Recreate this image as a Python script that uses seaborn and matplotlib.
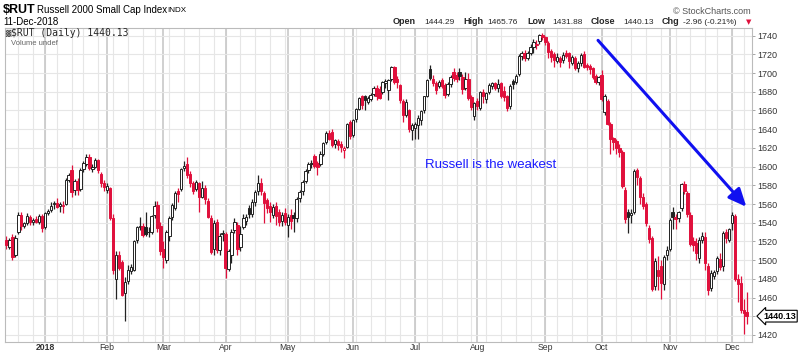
import matplotlib
matplotlib.use("Agg")
import matplotlib.pyplot as plt
import seaborn as sns
import pandas as pd
import numpy as np

# trading calendar, 12-Dec-2017 .. 11-Dec-2018
holidays = ["2017-12-25", "2018-01-01", "2018-01-15", "2018-02-19", "2018-03-30",
            "2018-05-28", "2018-07-04", "2018-09-03", "2018-11-22", "2018-12-05"]
dates = pd.bdate_range("2017-12-12", "2018-12-11", freq="C", holidays=holidays)

opens = [
    # Dec 2017
    1522, 1514, 1525, 1505, 1530, 1548, 1537, 1540, 1546, 1541, 1544, 1541, 1547,
    # Jan
    1535, 1550, 1554, 1560, 1561, 1558, 1558, 1560, 1586, 1596, 1575, 1585, 1576, 1597,
    1603, 1610, 1597, 1600, 1607, 1592, 1583,
    # Feb
    1575, 1577, 1545, 1480, 1506, 1498, 1465, 1478, 1488, 1490, 1522, 1535, 1537, 1535,
    1530, 1530, 1548, 1559, 1536,
    # Mar
    1512, 1500, 1526, 1546, 1556, 1574, 1576, 1598, 1603, 1592, 1583, 1576, 1582, 1568,
    1577, 1563, 1545, 1512, 1541, 1511, 1528,
    # Apr
    1528, 1491, 1505, 1532, 1538, 1514, 1535, 1542, 1556, 1549, 1562, 1574, 1582, 1572,
    1564, 1558, 1548, 1558, 1552, 1542, 1550,
    # May
    1538, 1548, 1548, 1545, 1566, 1574, 1585, 1596, 1603, 1611, 1604, 1603, 1614, 1626,
    1636, 1637, 1624, 1627, 1624, 1618, 1621, 1648,
    # Jun
    1634, 1651, 1662, 1675, 1675, 1669, 1672, 1678, 1684, 1683, 1680, 1689, 1682, 1694,
    1706, 1694, 1687, 1670, 1655, 1660, 1639,
    # Jul
    1641, 1644, 1650, 1660, 1676, 1704, 1694, 1689, 1686, 1693, 1687, 1678, 1688, 1701,
    1698, 1701, 1696, 1684, 1694, 1674, 1654,
    # Aug
    1670, 1663, 1680, 1672, 1680, 1686, 1689, 1684, 1689, 1681, 1675, 1665, 1692, 1690,
    1699, 1718, 1722, 1716, 1722, 1728, 1730, 1734, 1741,
    # Sep
    1739, 1732, 1724, 1720, 1713, 1716, 1714, 1722, 1721, 1711, 1716, 1705, 1711, 1720,
    1709, 1708, 1705, 1697, 1690,
    # Oct
    1698, 1658, 1670, 1646, 1631, 1627, 1620, 1616, 1575, 1552, 1548, 1551, 1596, 1588,
    1568, 1560, 1534, 1524, 1472, 1490, 1494, 1474, 1506,
    # Nov
    1512, 1552, 1546, 1545, 1556, 1581, 1572, 1548, 1521, 1518, 1502, 1522, 1525, 1494,
    1470, 1483, 1488, 1501, 1494, 1530, 1522,
    # Dec
    1540, 1547, 1480, 1476, 1447, 1444.29,
]
highs = [
    1526, 1524, 1528, 1527, 1551, 1552, 1541, 1550, 1548, 1545, 1547, 1549, 1549,
    1551, 1555, 1562, 1563, 1566, 1562, 1563, 1588, 1593, 1602, 1587, 1588, 1598, 1606,
    1614, 1613, 1603, 1609, 1608, 1594, 1586,
    1583, 1578, 1549, 1510, 1510, 1500, 1482, 1495, 1496, 1522, 1537, 1546, 1540, 1552,
    1535, 1548, 1563, 1563, 1541,
    1520, 1532, 1547, 1561, 1574, 1577, 1598, 1606, 1610, 1595, 1585, 1586, 1584, 1585,
    1580, 1566, 1548, 1543, 1544, 1529, 1532,
    1530, 1512, 1533, 1545, 1541, 1536, 1549, 1549, 1559, 1565, 1575, 1591, 1588, 1574,
    1566, 1562, 1560, 1562, 1555, 1552, 1556,
    1549, 1555, 1552, 1567, 1575, 1586, 1597, 1605, 1607, 1613, 1606, 1617, 1626, 1638,
    1639, 1640, 1630, 1630, 1627, 1622, 1647, 1650,
    1651, 1663, 1674, 1677, 1677, 1676, 1679, 1686, 1687, 1686, 1692, 1694, 1694, 1708,
    1708, 1697, 1688, 1672, 1672, 1662, 1647,
    1648, 1655, 1660, 1676, 1694, 1709, 1698, 1692, 1693, 1695, 1689, 1690, 1698, 1705,
    1701, 1705, 1699, 1701, 1700, 1677, 1669,
    1673, 1681, 1683, 1680, 1689, 1691, 1690, 1694, 1691, 1686, 1677, 1688, 1694, 1699,
    1720, 1724, 1725, 1724, 1731, 1736, 1735, 1742, 1743,
    1740, 1734, 1726, 1723, 1722, 1718, 1723, 1725, 1723, 1719, 1718, 1713, 1722, 1724,
    1711, 1710, 1707, 1699, 1697,
    1703, 1678, 1672, 1648, 1632, 1630, 1624, 1618, 1578, 1555, 1555, 1597, 1598, 1590,
    1572, 1562, 1538, 1526, 1502, 1504, 1500, 1505, 1515,
    1545, 1557, 1549, 1553, 1582, 1585, 1574, 1551, 1525, 1524, 1525, 1530, 1530, 1497,
    1489, 1490, 1504, 1508, 1531, 1533, 1534,
    1552, 1549, 1485, 1483, 1458, 1465.76,
]
lows = [
    1512, 1512, 1500, 1503, 1528, 1532, 1534, 1538, 1538, 1538, 1540, 1539, 1530,
    1533, 1548, 1552, 1555, 1556, 1552, 1550, 1559, 1584, 1568, 1570, 1570, 1574, 1594,
    1601, 1596, 1594, 1599, 1593, 1578, 1574,
    1572, 1543, 1485, 1459, 1490, 1462, 1435, 1474, 1485, 1488, 1518, 1532, 1525, 1526,
    1525, 1528, 1545, 1530, 1506,
    1492, 1497, 1520, 1543, 1554, 1562, 1574, 1595, 1588, 1578, 1571, 1574, 1552, 1566,
    1560, 1545, 1507, 1505, 1508, 1505, 1520,
    1481, 1488, 1497, 1529, 1505, 1510, 1533, 1538, 1545, 1546, 1558, 1570, 1570, 1540,
    1550, 1541, 1545, 1538, 1537, 1536, 1538,
    1525, 1533, 1530, 1541, 1562, 1570, 1582, 1593, 1598, 1598, 1591, 1601, 1611, 1624,
    1628, 1621, 1620, 1618, 1616, 1609, 1620, 1630,
    1632, 1648, 1660, 1662, 1660, 1667, 1670, 1676, 1671, 1672, 1678, 1684, 1671, 1692,
    1688, 1684, 1668, 1648, 1653, 1637, 1628,
    1630, 1630, 1645, 1657, 1674, 1693, 1686, 1678, 1684, 1684, 1673, 1676, 1685, 1692,
    1690, 1693, 1678, 1682, 1671, 1660, 1650,
    1661, 1660, 1668, 1668, 1678, 1683, 1682, 1680, 1673, 1670, 1659, 1662, 1683, 1688,
    1697, 1714, 1713, 1714, 1719, 1722, 1726, 1731, 1735,
    1730, 1716, 1712, 1707, 1711, 1706, 1711, 1716, 1705, 1709, 1703, 1701, 1708, 1705,
    1703, 1699, 1694, 1688, 1687,
    1670, 1655, 1645, 1614, 1618, 1613, 1610, 1577, 1540, 1529, 1540, 1549, 1580, 1560,
    1555, 1536, 1518, 1467, 1468, 1468, 1458, 1468, 1500,
    1510, 1533, 1533, 1541, 1553, 1571, 1546, 1515, 1510, 1500, 1497, 1518, 1490, 1463,
    1467, 1480, 1485, 1490, 1488, 1518, 1519,
    1532, 1478, 1455, 1444, 1421, 1431.88,
]
closes = [
    1516, 1522, 1503, 1524, 1548, 1537, 1540, 1547, 1541, 1543, 1541, 1547, 1534,
    1550, 1553, 1558, 1560, 1557, 1560, 1559, 1586, 1591, 1573, 1585, 1575, 1596, 1604,
    1610, 1598, 1600, 1607, 1596, 1582, 1578,
    1579, 1545, 1490, 1506, 1492, 1463, 1477, 1489, 1493, 1520, 1535, 1537, 1527, 1528,
    1530, 1547, 1558, 1534, 1510,
    1503, 1530, 1545, 1559, 1572, 1571, 1597, 1601, 1591, 1582, 1574, 1584, 1568, 1577,
    1565, 1546, 1509, 1540, 1511, 1526, 1529,
    1492, 1510, 1530, 1541, 1512, 1528, 1545, 1546, 1549, 1562, 1573, 1582, 1574, 1561,
    1556, 1551, 1557, 1547, 1541, 1548, 1541,
    1546, 1542, 1545, 1565, 1573, 1584, 1595, 1603, 1604, 1601, 1600, 1614, 1625, 1636,
    1630, 1623, 1628, 1623, 1621, 1620, 1646, 1633,
    1650, 1662, 1673, 1666, 1671, 1673, 1677, 1684, 1675, 1673, 1690, 1692, 1693, 1706,
    1691, 1690, 1671, 1655, 1669, 1640, 1645,
    1646, 1652, 1659, 1675, 1693, 1695, 1689, 1682, 1690, 1686, 1677, 1688, 1696, 1695,
    1694, 1697, 1683, 1694, 1673, 1664, 1668,
    1665, 1680, 1675, 1679, 1687, 1689, 1684, 1688, 1676, 1674, 1663, 1686, 1688, 1697,
    1718, 1722, 1716, 1722, 1728, 1733, 1731, 1741, 1739,
    1733, 1723, 1717, 1714, 1717, 1712, 1719, 1718, 1713, 1717, 1705, 1711, 1719, 1707,
    1706, 1704, 1696, 1690, 1696,
    1672, 1675, 1646, 1630, 1626, 1620, 1616, 1579, 1544, 1546, 1550, 1595, 1589, 1568,
    1558, 1540, 1523, 1469, 1499, 1483, 1476, 1503, 1511,
    1543, 1546, 1544, 1552, 1581, 1574, 1549, 1517, 1516, 1508, 1522, 1526, 1497, 1468,
    1486, 1487, 1502, 1493, 1529, 1524, 1533,
    1548, 1480, 1474, 1447, 1443.09, 1440.13,
]

month_labels = ["2018", "Feb", "Mar", "Apr", "May", "Jun", "Jul",
                "Aug", "Sep", "Oct", "Nov", "Dec"]
y_ticks = list(range(1420, 1741, 20))
last_close = "1440.13"

df = pd.DataFrame({"date": dates, "open": opens, "high": highs,
                   "low": lows, "close": closes})
df["pos"] = np.arange(len(df))

RED = "#e0103c"
INK = "#222222"

sns.set_theme(style="white")
plt.rcParams["font.family"] = ["Liberation Sans", "DejaVu Sans"]

fig = plt.figure(figsize=(8, 3.53), dpi=100)
ax = fig.add_axes([5 / 800, 11 / 353, 747 / 800, 314 / 353])

# grid: weekly light lines, month lines a bit darker
iso = df["date"].dt.isocalendar()
week_start = df["pos"][iso["week"].ne(iso["week"].shift())]
month_start = df["pos"][df["date"].dt.month.ne(df["date"].dt.month.shift())].iloc[1:]
for p in week_start:
    ax.axvline(p, color="#e6e6e6", lw=0.8, zorder=0)
for p in month_start:
    ax.axvline(p, color="#c8c8c8", lw=1.2, zorder=0)
for v in y_ticks:
    ax.axhline(v, color="#e6e6e6", lw=0.8, zorder=0)

# candles: colour vs previous close, fill vs open
prev = df["close"].shift(1).fillna(df["open"])
edge = np.where(df["close"] >= prev, INK, RED)
face = np.where(df["close"] >= df["open"], "white", edge)
body_lo = np.minimum(df["open"], df["close"])
body_h = np.maximum(np.abs(df["close"] - df["open"]), 0.6)

ax.vlines(df["pos"], df["low"], df["high"], colors=edge, lw=0.9, zorder=2)
ax.bar(df["pos"], body_h, bottom=body_lo, width=0.8, color=face,
       edgecolor=edge, linewidth=0.7, zorder=3)

ax.set_xlim(-0.5, 251.8)
ax.set_ylim(1412.5, 1748.2)

# the last-price tag takes the place of the 1440 label
ax.set_yticks(y_ticks)
ax.set_yticklabels(["" if v == 1440 else str(v) for v in y_ticks])
ax.yaxis.tick_right()
ax.tick_params(axis="y", length=2, width=0.6, color="#999999", labelsize=6.5,
               labelcolor="#333333", pad=2)
ax.set_xticks(list(month_start))
ax.set_xticklabels(month_labels)
ax.tick_params(axis="x", length=0, labelsize=6.2, labelcolor="#333333", pad=0.5)
ax.get_xticklabels()[0].set_fontweight("bold")
for s in ax.spines.values():
    s.set_color("#bbbbbb")
    s.set_linewidth(0.8)

# annotation
ax.text(163.5, 1601.5, "Russell is the weakest", color="#1a1aff", fontsize=9.5,
        ha="center", va="center", zorder=5)
ax.annotate("", xy=(249.9, 1557), xytext=(199.8, 1735),
            arrowprops=dict(arrowstyle="-|>,head_length=0.9,head_width=0.4",
                            color="#1010f0", lw=2.2, shrinkA=0, shrinkB=0), zorder=5)

# last price tag
ax.annotate(last_close, xy=(1.0, 1440.13), xycoords=("axes fraction", "data"),
            xytext=(8, 0), textcoords="offset points", ha="left", va="center",
            fontsize=6.5, fontweight="bold", color="black", zorder=10,
            bbox=dict(boxstyle="larrow,pad=0.15", fc="white", ec="black", lw=0.8),
            annotation_clip=False)

# header texts
def ftext(x, y, s, **kw):
    fig.text(x / 800, 1 - y / 353, s, va="center", ha="left", **kw)

ftext(3, 10, "$RUT", fontsize=9, fontweight="bold", color="black")
ftext(37, 10, "Russell 2000 Small Cap Index", fontsize=7, color="black")
ftext(167, 10.5, "INDX", fontsize=5.8, color="black")
ftext(3, 22, "11-Dec-2018", fontsize=7, color="black")
ftext(673, 11, "\u00a9 StockCharts.com", fontsize=6.5, color="#555555")

ftext(393, 22, "Open", fontsize=6.5, fontweight="bold")
ftext(424, 22, "1444.29", fontsize=6)
ftext(463, 22, "High", fontsize=6.5, fontweight="bold")
ftext(487, 22, "1465.76", fontsize=6)
ftext(527, 22, "Low", fontsize=6.5, fontweight="bold")
ftext(552, 22, "1431.88", fontsize=6)
ftext(591, 22, "Close", fontsize=6.5, fontweight="bold")
ftext(623, 22, "1440.13", fontsize=6)
ftext(662, 22, "Chg", fontsize=6.5, fontweight="bold")
ftext(683, 22, "-2.96 (-0.21%)", fontsize=6)
ftext(746, 22, "\u25bc", fontsize=5, color=RED, family="DejaVu Sans")

ftext(11, 33, "$RUT (Daily) 1440.13", fontsize=7, family="DejaVu Sans Mono")
ftext(5, 33, "\u2593", fontsize=5, color="#555555", family="DejaVu Sans")
ftext(11, 43.5, "Volume undef", fontsize=5.5, color="#666666")

fig.savefig("out.png", dpi=100)
